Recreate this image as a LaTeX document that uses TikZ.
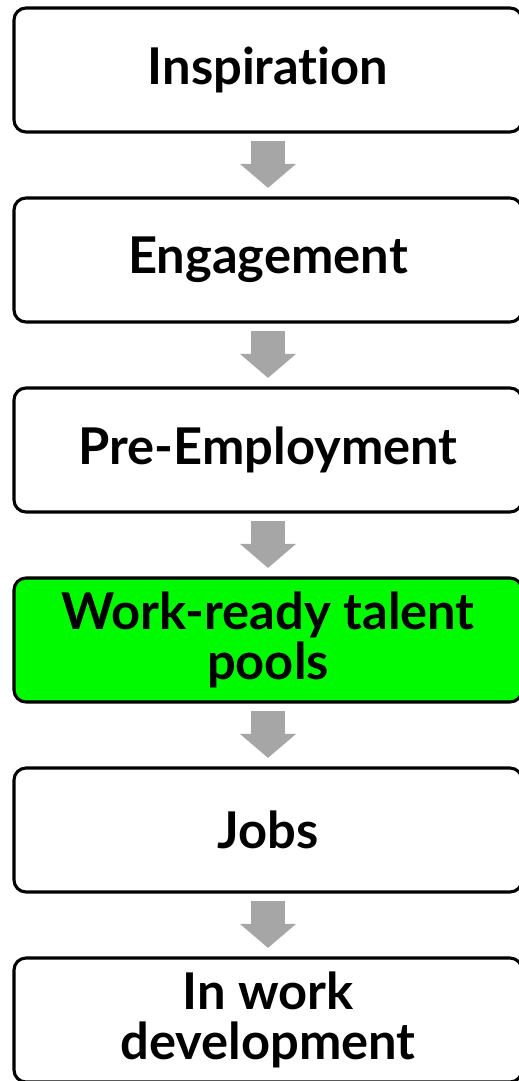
\documentclass[tikz,border=0pt]{standalone}
\usepackage{fontspec}
\setmainfont{Lato}[Ligatures=CommonOff]
\usetikzlibrary{arrows.meta}
\definecolor{arrowgray}{RGB}{166,166,166}
\definecolor{poolgreen}{RGB}{0,250,0}
\begin{document}
\begin{tikzpicture}[x=0.75pt,y=-0.75pt,
    stage/.style={draw=black,line width=2.3pt,rounded corners=9pt,fill=white,
      minimum width=381pt,minimum height=93pt,align=center,inner sep=0pt,
      font=\fontsize{38}{37}\selectfont\bfseries},
    flow/.style={draw=arrowgray,line width=25.5pt,
      -{Triangle[width=41pt,length=18pt]},shorten <=5.6pt,shorten >=6.4pt}]
  \useasboundingbox (0,0) rectangle (518,1081);
  % stages
  \node[stage] (insp) at (268,70) {Inspiration};
  \node[stage] (eng) at (268,260) {Engagement};
  \node[stage] (pre) at (268,450) {Pre-Employment};
  \node[stage,fill=poolgreen] (pool) at (268,640) {Work-ready talent\\pools};
  \node[stage] (jobs) at (268,830) {Jobs};
  \node[stage] (dev) at (268,1020) {In work\\development};
  % arrows
  \draw[flow] (insp) -- (eng);
  \draw[flow] (eng) -- (pre);
  \draw[flow] (pre) -- (pool);
  \draw[flow] (pool) -- (jobs);
  \draw[flow] (jobs) -- (dev);
\end{tikzpicture}
\end{document}
